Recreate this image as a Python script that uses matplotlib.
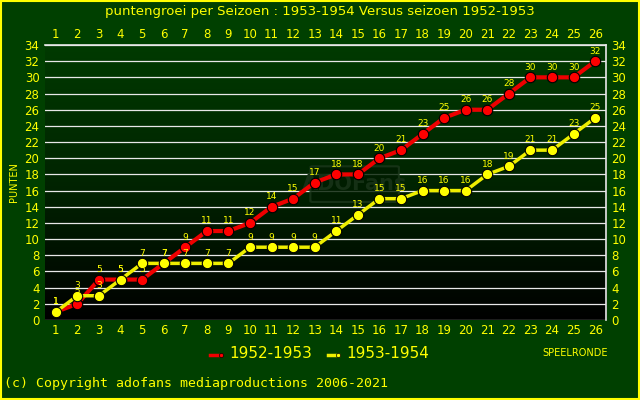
import matplotlib
matplotlib.use("Agg")
import matplotlib.pyplot as plt
import numpy as np
from matplotlib.patches import Rectangle, FancyBboxPatch
from matplotlib.colors import LinearSegmentedColormap

rounds = list(range(1, 27))
s1952 = [1, 2, 5, 5, 5, 7, 9, 11, 11, 12, 14, 15, 17, 18, 18, 20, 21, 23, 25, 26, 26, 28, 30, 30, 30, 32]
s1953 = [1, 3, 3, 5, 7, 7, 7, 7, 7, 9, 9, 9, 9, 11, 13, 15, 15, 16, 16, 16, 18, 19, 21, 21, 23, 25]
yticks = list(range(0, 35, 2))
title = "puntengroei per Seizoen : 1953-1954 Versus seizoen 1952-1953"

BG = "#004000"
YEL = "#ffff00"

fig = plt.figure(figsize=(6.4, 4.0), dpi=100, facecolor=BG)
fig.patches.append(Rectangle((0.001, 0.002), 0.997, 0.996, transform=fig.transFigure,
                             fill=False, edgecolor=YEL, lw=1.5))
ax = fig.add_axes([0.0703, 0.2, 0.8766, 0.6875])
ax.set_xlim(0.5, 26.5)
ax.set_ylim(0, 34)

# gradient background
grad = np.linspace(0, 1, 256).reshape(-1, 1)
cmap = LinearSegmentedColormap.from_list("g", ["#000000", "#002400", "#003a00"])
ax.imshow(grad, extent=[0.5, 26.5, 0, 34], origin="lower", aspect="auto", cmap=cmap, zorder=0)

for y in yticks:
    ax.axhline(y, color="#e8e8e8", lw=0.9, zorder=1)

# watermark
ax.add_patch(FancyBboxPatch((12.9, 14.7), 3.9, 4.2, boxstyle="round,pad=0.1", fc="#001c00",
                            ec="#1c381c", lw=1.5, alpha=0.8, zorder=1.5))
ax.text(14.85, 16.8, "ADOFans", color="#153015", fontsize=15, fontweight="bold",
        ha="center", va="center", zorder=1.6)

ax.plot(rounds, s1952, color="#ee0000", lw=3, marker="o", ms=7.5, mfc="#ff0000",
        mec="#000000", mew=0.8, zorder=3)
ax.plot(rounds, s1953, color="#eeee00", lw=2.5, marker="o", ms=7.5, mfc="#ffff00",
        mec="#000000", mew=0.8, zorder=4)
for x, v in zip(rounds, s1952):
    ax.text(x, v + 0.7, str(v), color=YEL, fontsize=6.5, ha="center", va="bottom", zorder=5)
for x, v in zip(rounds, s1953):
    ax.text(x, v + 0.7, str(v), color=YEL, fontsize=6.5, ha="center", va="bottom", zorder=5)

for s in ["left", "bottom"]:
    ax.spines[s].set_visible(False)
for s in ["top", "right"]:
    ax.spines[s].set_color("#e8e8e8")
    ax.spines[s].set_linewidth(1.2)

ax.set_xticks(rounds)
ax.set_yticks(yticks)
ax.tick_params(axis="both", length=0, labelcolor=YEL, labelsize=8.5)
ax.tick_params(axis="x", bottom=True, labelbottom=True, top=True, labeltop=True, pad=3)
ax.tick_params(axis="y", right=True, labelright=True, pad=4)

fig.text(0.5, 0.97, title, color=YEL, fontsize=9.5, ha="center", va="center")
fig.text(0.022, 0.545, "PUNTEN", color=YEL, fontsize=7, rotation=90, ha="center", va="center")
fig.text(0.898, 0.117, "SPEELRONDE", color=YEL, fontsize=7, ha="center", va="center")

# legend
fig.lines.append(plt.Line2D([0.328, 0.346], [0.113, 0.113], transform=fig.transFigure,
                            color="#ee0000", lw=2.5, marker="o", ms=3, markevery=[1],
                            mfc="#ff0000", mec="black", mew=0.5))
fig.text(0.358, 0.115, "1952-1953", color=YEL, fontsize=11, ha="left", va="center")
fig.lines.append(plt.Line2D([0.512, 0.528], [0.113, 0.113], transform=fig.transFigure,
                            color="#eeee00", lw=2.5, marker="o", ms=3, markevery=[1],
                            mfc="#ffff00", mec="black", mew=0.5))
fig.text(0.541, 0.115, "1953-1954", color=YEL, fontsize=11, ha="left", va="center")

fig.text(0.006, 0.04, "(c) Copyright adofans mediaproductions 2006-2021", color=YEL,
         fontsize=9.5, family="DejaVu Sans Mono", ha="left", va="center")

fig.savefig("out.png", dpi=100, facecolor=BG)
